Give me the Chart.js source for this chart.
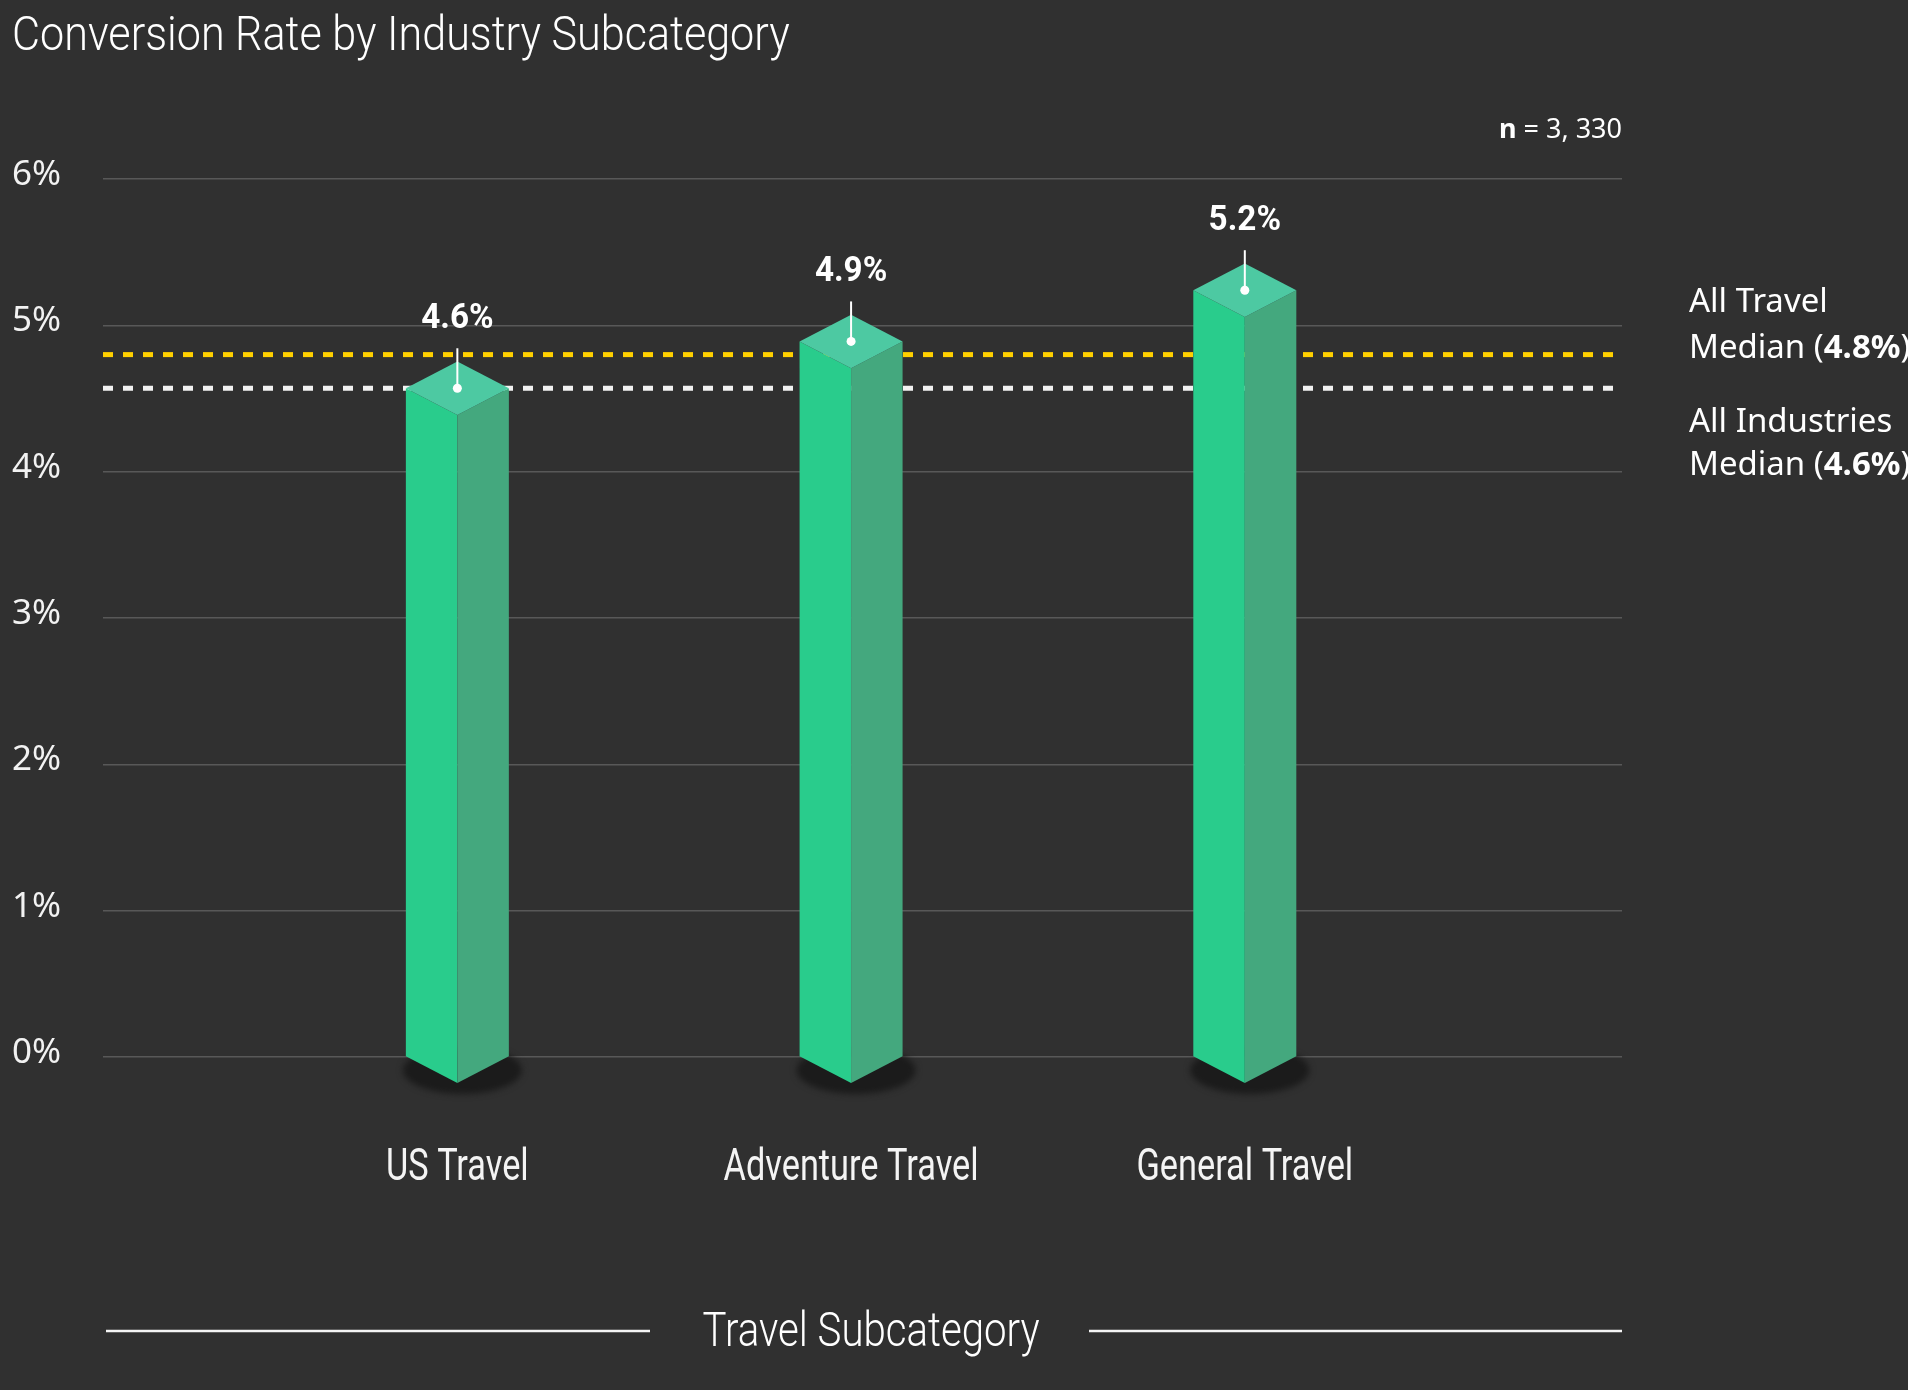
<!DOCTYPE html>
<html>
<head>
<meta charset="utf-8">
<script src="https://cdn.jsdelivr.net/npm/chart.js@4.4.1/dist/chart.umd.min.js"></script>
<style>
  html, body { margin: 0; padding: 0; background: #303030; }
  #wrap { position: relative; width: 1908px; height: 1390px; }
</style>
</head>
<body>
<div id="wrap"><canvas id="conv-chart" width="1908" height="1390"></canvas></div>
<script>
///// data /////
const categories = ['US Travel', 'Adventure Travel', 'General Travel'];
const rates = [4.57, 4.89, 5.24];
const medianNames = [['All Travel', 'Median'], ['All Industries', 'Median']];
const medianValues = [4.8, 4.57];
const medianColors = ['#ffd000', '#f2f2f2'];
const yTicks = [0, 1, 2, 3, 4, 5, 6];
const sampleSize = '3, 330';

const BG = '#303030';

// draw text squeezed horizontally (the original uses a condensed face)
function condText(ctx, str, x, y, font, sx, align) {
  ctx.save();
  ctx.font = font;
  const w = ctx.measureText(str).width * sx;
  const left = align === 'center' ? x - w / 2 : align === 'right' ? x - w : x;
  ctx.translate(left, y);
  ctx.scale(sx, 1);
  ctx.textAlign = 'left';
  ctx.textBaseline = 'alphabetic';
  ctx.fillText(str, 0, 0);
  ctx.restore();
}

// pieces = [[text, font], ...] drawn one after another
function runText(ctx, pieces, x, y, align) {
  ctx.save();
  ctx.textBaseline = 'alphabetic';
  ctx.textAlign = 'left';
  let total = 0;
  pieces.forEach(p => { ctx.font = p[1]; total += ctx.measureText(p[0]).width; });
  let cx = align === 'right' ? x - total : x;
  pieces.forEach(p => {
    ctx.font = p[1];
    ctx.fillText(p[0], cx, y);
    cx += ctx.measureText(p[0]).width;
  });
  ctx.restore();
}

const bgPlugin = {
  id: 'bg',
  beforeDraw(chart) {
    const ctx = chart.ctx;
    ctx.save();
    ctx.fillStyle = BG;
    ctx.fillRect(0, 0, chart.width, chart.height);
    ctx.restore();
  }
};

// median lines go behind the bars
const medianPlugin = {
  id: 'medians',
  beforeDatasetsDraw(chart) {
    const { ctx, chartArea, scales } = chart;
    ctx.save();
    ctx.lineWidth = 5;
    ctx.setLineDash([10, 10]);
    medianValues.forEach((v, i) => {
      const y = scales.y.getPixelForValue(v);
      ctx.strokeStyle = medianColors[i];
      ctx.beginPath();
      ctx.moveTo(chartArea.left, y);
      ctx.lineTo(chartArea.right, y);
      ctx.stroke();
    });
    ctx.restore();
  }
};

// 3d looking columns built from the bar elements
const columnPlugin = {
  id: 'columns',
  afterDatasetsDraw(chart) {
    const ctx = chart.ctx;
    const meta = chart.getDatasetMeta(0);
    meta.data.forEach((bar, i) => {
      const { x, y, base, width } = bar.getProps(['x', 'y', 'base', 'width'], true);
      const h = width / 2;
      const d = h * 0.52;
      ctx.save();
      // shadow
      ctx.filter = 'blur(3px)';
      ctx.fillStyle = '#1b1b1b';
      ctx.beginPath();
      ctx.ellipse(x + 5, base + 14, h + 8, d - 3, 0, 0, Math.PI * 2);
      ctx.fill();
      ctx.filter = 'none';
      // left face
      ctx.fillStyle = '#29cc8c';
      ctx.beginPath();
      ctx.moveTo(x - h, y);
      ctx.lineTo(x, y + d);
      ctx.lineTo(x, base + d);
      ctx.lineTo(x - h, base);
      ctx.closePath();
      ctx.fill();
      // right face
      ctx.fillStyle = '#44a87e';
      ctx.beginPath();
      ctx.moveTo(x, y + d);
      ctx.lineTo(x + h, y);
      ctx.lineTo(x + h, base);
      ctx.lineTo(x, base + d);
      ctx.closePath();
      ctx.fill();
      // top
      ctx.fillStyle = '#4dc9a2';
      ctx.beginPath();
      ctx.moveTo(x - h, y);
      ctx.lineTo(x, y - d);
      ctx.lineTo(x + h, y);
      ctx.lineTo(x, y + d);
      ctx.closePath();
      ctx.fill();
      // pin + value label
      ctx.strokeStyle = '#ffffff';
      ctx.lineWidth = 2;
      ctx.beginPath();
      ctx.moveTo(x, y);
      ctx.lineTo(x, y - 40);
      ctx.stroke();
      ctx.fillStyle = '#ffffff';
      ctx.beginPath();
      ctx.arc(x, y, 4.5, 0, Math.PI * 2);
      ctx.fill();
      ctx.restore();

      ctx.fillStyle = '#ffffff';
      condText(ctx, rates[i].toFixed(1) + '%', x, y - 60, 'bold 35px Roboto', 0.95, 'center');
      // category label
      ctx.fillStyle = '#f4f4f4';
      condText(ctx, categories[i], x, 1180, '400 44px Roboto', 0.78, 'center');
    });
  }
};

const textPlugin = {
  id: 'texts',
  afterDraw(chart) {
    const { ctx, chartArea } = chart;
    ctx.save();
    ctx.fillStyle = '#ffffff';
    condText(ctx, 'Conversion Rate by Industry Subcategory', 12, 50, '300 49px Roboto', 0.88, 'left');

    runText(ctx, [['n', 'bold 27px "Noto Sans"'], [' = ' + sampleSize, '27px "Noto Sans"']], chartArea.right, 138, 'right');

    const baselines = [[312, 358], [432, 475]];
    medianNames.forEach((nm, i) => {
      runText(ctx, [[nm[0], '33px "Noto Sans"']], 1689, baselines[i][0], 'left');
      runText(ctx, [
        [nm[1] + ' (', '33px "Noto Sans"'],
        [medianValues[i].toFixed(1) + '%', 'bold 33px "Noto Sans"'],
        [')', '33px "Noto Sans"']
      ], 1689, baselines[i][1], 'left');
    });

    // axis title with rules either side
    condText(ctx, 'Travel Subcategory', 871, 1346, '300 49px Roboto', 0.82, 'center');
    ctx.strokeStyle = '#f4f4f4';
    ctx.lineWidth = 2.5;
    ctx.beginPath();
    ctx.moveTo(106, 1331); ctx.lineTo(650, 1331);
    ctx.moveTo(1089, 1331); ctx.lineTo(chartArea.right, 1331);
    ctx.stroke();
    ctx.restore();
  }
};

const config = {
  type: 'bar',
  data: {
    datasets: [{
      data: rates.map((v, i) => ({ x: i + 1, y: v })),
      backgroundColor: 'rgba(0,0,0,0)',
      barThickness: 103
    }]
  },
  options: {
    responsive: false,
    devicePixelRatio: 1,
    animation: false,
    layout: { padding: { left: 12, right: 286, top: 179, bottom: 333 } },
    plugins: { legend: { display: false }, tooltip: { enabled: false }, title: { display: false } },
    scales: {
      x: {
        type: 'linear',
        display: false,
        offset: false,
        min: 0.1,
        max: 3.958
      },
      y: {
        min: 0,
        max: 6,
        afterFit: s => { s.width = 91; },
        afterBuildTicks: s => { s.ticks = yTicks.map(v => ({ value: v })); },
        border: { display: false },
        grid: { color: '#585858', lineWidth: 1.5, drawTicks: false },
        ticks: {
          crossAlign: 'far',
          padding: 0,
          labelOffset: -4,
          color: '#f2f2f2',
          font: { family: 'Noto Sans', size: 35, weight: 400 },
          callback: v => v + '%'
        }
      }
    }
  },
  plugins: [bgPlugin, medianPlugin, columnPlugin, textPlugin]
};

let convChart = new Chart(document.getElementById('conv-chart'), config);
</script>
</body>
</html>
